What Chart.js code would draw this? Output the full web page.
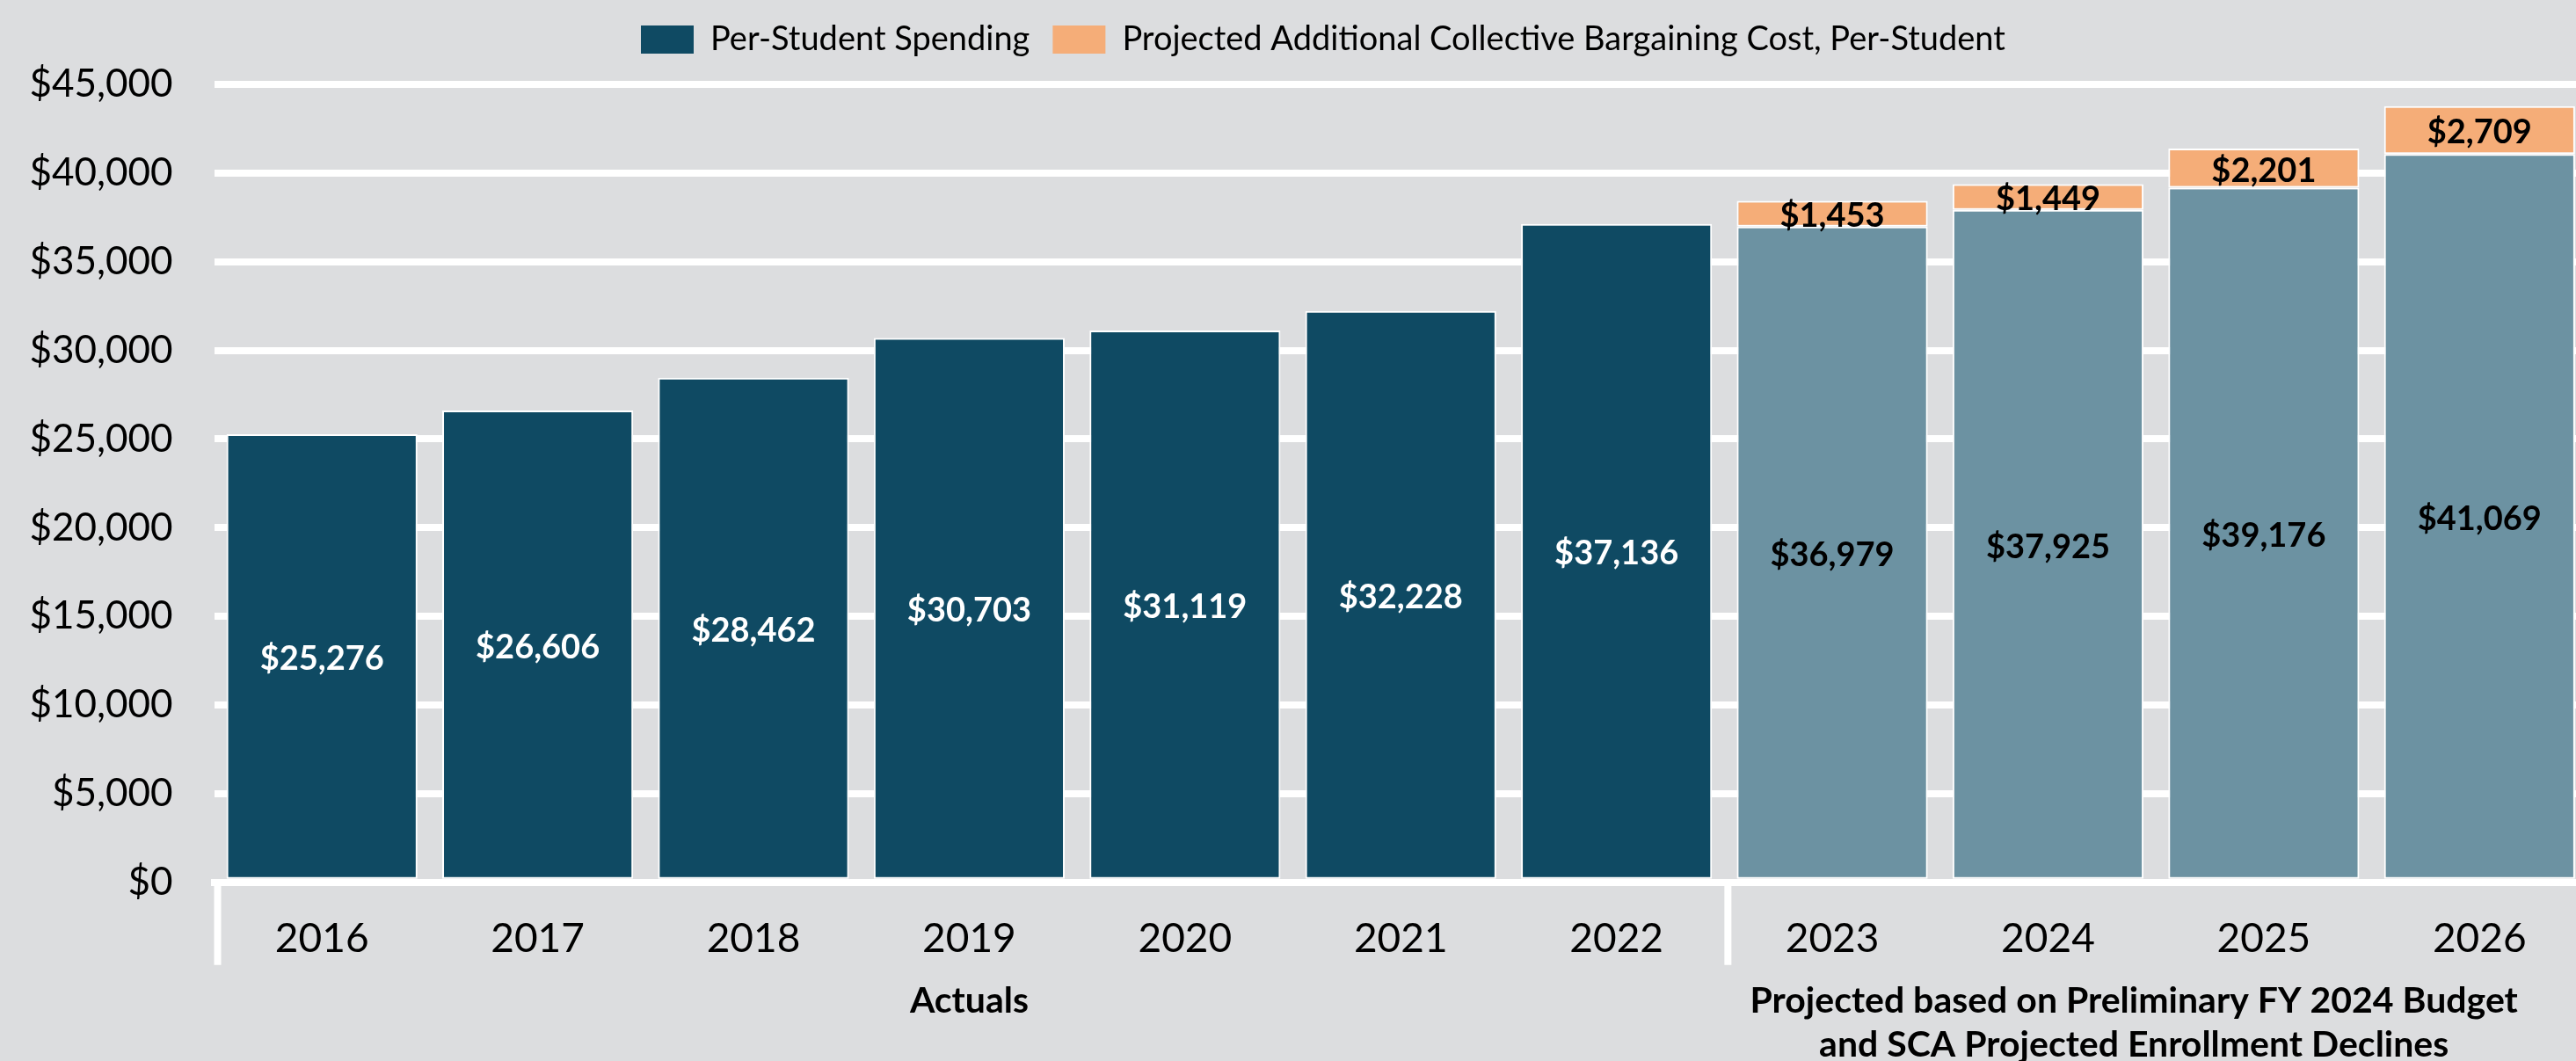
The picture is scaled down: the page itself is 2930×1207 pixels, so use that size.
<!DOCTYPE html>
<html>
<head>
<meta charset="utf-8">
<script src="https://cdn.jsdelivr.net/npm/chart.js@4.4.0/dist/chart.umd.min.js"></script>
<style>
    html, body { margin: 0; padding: 0; background: #dcdddf; overflow: hidden; }
    #wrap { width: 2944px; height: 1207px; }
</style>
</head>
<body>
<div id="wrap"><canvas id="chart" width="2944" height="1207"></canvas></div>
<script>
    "use strict";

    var years = ['2016', '2017', '2018', '2019', '2020', '2021', '2022', '2023', '2024', '2025', '2026'];
    var perStudentSpending = [25276, 26606, 28462, 30703, 31119, 32228, 37136, 36979, 37925, 39176, 41069];
    var bargainingCost = [null, null, null, null, null, null, null, 1453, 1449, 2201, 2709];
    var yTickValues = [0, 5000, 10000, 15000, 20000, 25000, 30000, 35000, 40000, 45000];
    var seriesLabels = ['Per-Student Spending', 'Projected Additional Collective Bargaining Cost, Per-Student'];
    var groupLabels = [
        ['Actuals'],
        ['Projected based on Preliminary FY 2024 Budget', 'and SCA Projected Enrollment Declines']
    ];
    var groupRanges = [[0, 6], [7, 10]];
    var firstProjected = 7;

    var DARK = '#0f4a63';
    var LIGHT = '#6c92a2';
    var ORANGE = '#f5ad78';
    var FONT = 'Lato';
    var LEGEND_LEFT = 729;
    var GROUP_SHIFT = [0, -25];

    function money(v) {
        return '$' + Number(v).toLocaleString('en-US');
    }

    // Legend: extra room below it, and placed where the original has it
    var legendTweak = {
        id: 'legendTweak',
        beforeLayout: function(chart) {
            var legend = chart.legend;
            if (!legend || legend._tweaked) return;
            var fit = legend.fit;
            var draw = legend.draw;
            legend.fit = function() {
                fit.call(this);
                this.height += 22;
            };
            legend.draw = function() {
                var boxes = this.legendHitBoxes || [];
                var dx = boxes.length ? LEGEND_LEFT - boxes[0].left : 0;
                this.ctx.save();
                this.ctx.translate(dx, 0);
                draw.call(this);
                this.ctx.restore();
            };
            legend._tweaked = true;
        }
    };

    // Value labels in the middle of each bar segment
    var valueLabels = {
        id: 'valueLabels',
        afterDatasetsDraw: function(chart) {
            var ctx = chart.ctx;
            ctx.save();
            ctx.font = 'bold 38px ' + FONT;
            ctx.textAlign = 'center';
            ctx.textBaseline = 'middle';
            chart.data.datasets.forEach(function(ds, di) {
                var meta = chart.getDatasetMeta(di);
                meta.data.forEach(function(bar, i) {
                    var v = ds.data[i];
                    if (v === null || v === undefined) return;
                    var props = bar.getProps(['x', 'y', 'base'], true);
                    if (di === 0 && i < firstProjected) {
                        ctx.fillStyle = '#ffffff';
                    } else {
                        ctx.fillStyle = '#000000';
                    }
                    ctx.fillText(money(v), props.x, (props.y + props.base) / 2 + 3);
                });
            });
            ctx.restore();
        }
    };

    // Separators under the axis and the two group captions
    var groupAxis = {
        id: 'groupAxis',
        afterDraw: function(chart) {
            var ctx = chart.ctx;
            var x = chart.scales.x;
            var area = chart.chartArea;
            var step = x.getPixelForValue(1) - x.getPixelForValue(0);
            ctx.save();
            ctx.strokeStyle = '#ffffff';
            ctx.lineWidth = 8;
            groupRanges.forEach(function(r) {
                var left = x.getPixelForValue(r[0]) - step / 2 + 4;
                ctx.beginPath();
                ctx.moveTo(left, area.bottom);
                ctx.lineTo(left, area.bottom + 94);
                ctx.stroke();
            });
            ctx.fillStyle = '#000000';
            ctx.font = 'bold 41px ' + FONT;
            ctx.textAlign = 'center';
            ctx.textBaseline = 'alphabetic';
            groupRanges.forEach(function(r, gi) {
                var cx = (x.getPixelForValue(r[0]) + x.getPixelForValue(r[1])) / 2 + GROUP_SHIFT[gi];
                groupLabels[gi].forEach(function(line, li) {
                    ctx.fillText(line, cx, area.bottom + 148 + li * 50);
                });
            });
            ctx.restore();
        }
    };

    var ctx = document.getElementById('chart').getContext('2d');
    new Chart(ctx, {
        type: 'bar',
        data: {
            labels: years,
            datasets: [{
                label: seriesLabels[0],
                data: perStudentSpending,
                backgroundColor: function(c) {
                    return c.dataIndex >= firstProjected ? LIGHT : DARK;
                },
                borderColor: '#ffffff',
                borderWidth: 2,
                borderSkipped: false,
                categoryPercentage: 1,
                barPercentage: 0.885
            }, {
                label: seriesLabels[1],
                data: bargainingCost,
                backgroundColor: ORANGE,
                borderColor: '#ffffff',
                borderWidth: 2,
                borderSkipped: false,
                categoryPercentage: 1,
                barPercentage: 0.885
            }]
        },
        options: {
            responsive: false,
            animation: false,
            devicePixelRatio: 1,
            layout: {
                padding: { left: 20, right: 1, top: 0, bottom: 82 }
            },
            plugins: {
                tooltip: { enabled: false },
                legend: {
                    position: 'top',
                    labels: {
                        color: '#000000',
                        font: { family: FONT, size: 38 },
                        boxWidth: 60,
                        boxHeight: 32,
                        padding: 26,
                        generateLabels: function(chart) {
                            var items = Chart.defaults.plugins.legend.labels.generateLabels(chart);
                            items.forEach(function(it) {
                                it.lineWidth = 0;
                                it.strokeStyle = 'rgba(0,0,0,0)';
                            });
                            return items;
                        }
                    }
                }
            },
            scales: {
                x: {
                    stacked: true,
                    grid: { display: false },
                    border: { display: true, color: '#ffffff', width: 8, z: 1 },
                    ticks: {
                        color: '#000000',
                        font: { family: FONT, size: 46 },
                        padding: 29,
                        maxRotation: 0
                    }
                },
                y: {
                    stacked: true,
                    min: 0,
                    max: 45000,
                    afterBuildTicks: function(scale) {
                        scale.ticks = yTickValues.map(function(v) { return { value: v }; });
                    },
                    afterFit: function(scale) {
                        scale.width = 223.5;
                    },
                    grid: { color: '#ffffff', lineWidth: 8, drawTicks: false },
                    border: { display: false },
                    ticks: {
                        color: '#000000',
                        font: { family: FONT, size: 44 },
                        padding: 47,
                        callback: function(v) { return money(v); }
                    }
                }
            }
        },
        plugins: [legendTweak, valueLabels, groupAxis]
    });
</script>
</body>
</html>
